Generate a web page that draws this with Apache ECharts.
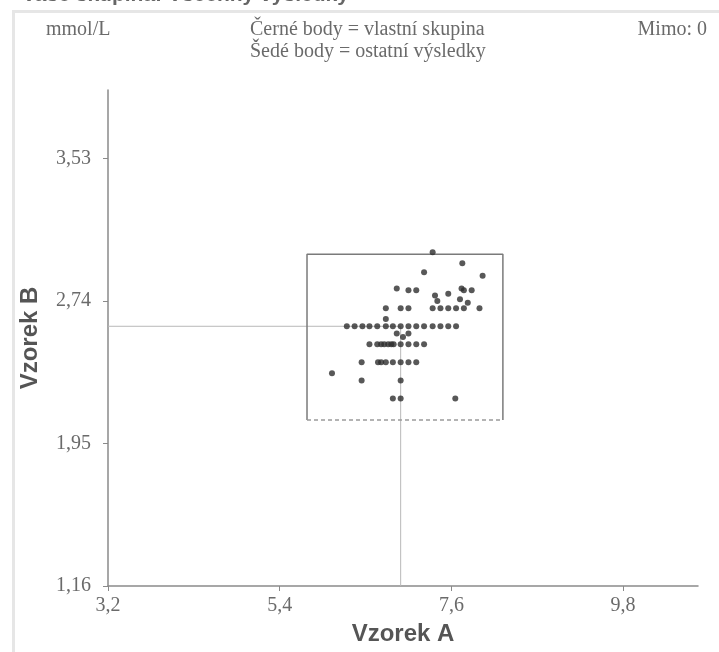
<!DOCTYPE html>
<html>
<head>
<meta charset="utf-8">
<title>Vzorek A / Vzorek B</title>
<script src="https://cdn.jsdelivr.net/npm/echarts@6/dist/echarts.min.js"></script>
<style>
  html, body { margin: 0; padding: 0; background: #ffffff; }
  #chart { width: 719px; height: 652px; }
</style>
</head>
<body>
<div id="chart"></div>
<script>
// Axis ticks (mmol/L)
const xTickValues = [3.2, 5.4, 7.6, 9.8];
const yTickValues = [1.16, 1.95, 2.74, 3.53];
const xRange = [3.2, 10.76];
const yRange = [1.16, 3.91];

// Own-group results: Vzorek A (x) and Vzorek B (y)
const ownX = [
  7.36, 7.74, 7.25, 8.00,
  6.90, 7.05, 7.15, 7.73, 7.76, 7.86, 7.56, 7.39, 7.71, 7.42, 7.81,
  6.76, 6.95, 7.05, 7.36, 7.46, 7.56, 7.66, 7.76, 7.96,
  6.76,
  6.26, 6.36, 6.46, 6.55, 6.65, 6.76, 6.85, 6.95, 7.05, 7.15, 7.25, 7.36, 7.46, 7.56, 7.66,
  6.90, 6.98, 7.05,
  6.55, 6.65, 6.70, 6.74, 6.79, 6.83, 6.86, 6.95, 7.05, 7.15, 7.25,
  6.45, 6.66, 6.70, 6.76, 6.85, 6.95, 7.05, 7.15,
  6.07,
  6.45, 6.95,
  6.85, 6.95, 7.65
];
const ownY = [
  3.01, 2.95, 2.90, 2.88,
  2.81, 2.80, 2.80, 2.81, 2.80, 2.80, 2.78, 2.77, 2.75, 2.74, 2.73,
  2.70, 2.70, 2.70, 2.70, 2.70, 2.70, 2.70, 2.70, 2.70,
  2.64,
  2.60, 2.60, 2.60, 2.60, 2.60, 2.60, 2.60, 2.60, 2.60, 2.60, 2.60, 2.60, 2.60, 2.60, 2.60,
  2.56, 2.54, 2.56,
  2.50, 2.50, 2.50, 2.50, 2.50, 2.50, 2.50, 2.50, 2.50, 2.50, 2.50,
  2.40, 2.40, 2.40, 2.40, 2.40, 2.40, 2.40, 2.40,
  2.34,
  2.30, 2.30,
  2.20, 2.20, 2.20
];

// Acceptable range box and target value
const boxX = [5.75, 8.26];
const boxY = [2.08, 3.00];
const target = [6.95, 2.60];

const fmt = v => String(v).replace('.', ',');
const serif = '"Liberation Serif", "Times New Roman", serif';
const sans = '"Liberation Sans", Arial, sans-serif';

const chart = echarts.init(document.getElementById('chart'), null, { renderer: 'canvas' });

chart.setOption({
  animation: false,
  backgroundColor: '#ffffff',
  grid: { left: 108, right: 21, top: 90, bottom: 66, containLabel: false },
  graphic: [
    { type: 'rect', shape: { x: 12, y: 10, width: 720, height: 3 }, style: { fill: '#e6e6e6' }, silent: true },
    { type: 'rect', shape: { x: 12, y: 10, width: 3, height: 660 }, style: { fill: '#e6e6e6' }, silent: true },
    { type: 'text', left: 22, top: -15, style: { text: 'Vaše skupina: Všechny výsledky', font: 'bold 21px ' + sans, fill: '#666666' } },
    { type: 'text', left: 46, top: 20, style: { text: 'mmol/L', font: '20px ' + serif, fill: '#6a6a6a' } },
    { type: 'text', left: 250, top: 20, style: { text: 'Černé body = vlastní skupina', font: '20px ' + serif, fill: '#6a6a6a' } },
    { type: 'text', left: 250, top: 42, style: { text: 'Šedé body = ostatní výsledky', font: '20px ' + serif, fill: '#6a6a6a' } },
    { type: 'text', right: 12, top: 20, style: { text: 'Mimo: 0', font: '20px ' + serif, fill: '#6a6a6a' } }
  ],
  xAxis: {
    type: 'value',
    min: xRange[0],
    max: xRange[1],
    name: 'Vzorek A',
    nameLocation: 'middle',
    nameGap: 36,
    nameTextStyle: { fontFamily: sans, fontWeight: 'bold', fontSize: 24, color: '#555555' },
    axisLine: { onZero: false, lineStyle: { color: '#8a8a8a', width: 1.5 } },
    axisTick: { show: true, length: 5, customValues: xTickValues, lineStyle: { color: '#8a8a8a' } },
    axisLabel: { customValues: xTickValues, formatter: fmt, margin: 10, fontFamily: serif, fontSize: 20, color: '#6a6a6a' },
    splitLine: { show: false }
  },
  yAxis: {
    type: 'value',
    min: yRange[0],
    max: yRange[1],
    name: 'Vzorek B',
    nameLocation: 'middle',
    nameGap: 66,
    nameRotate: 90,
    nameTextStyle: { fontFamily: sans, fontWeight: 'bold', fontSize: 24, color: '#555555' },
    axisLine: { show: true, onZero: false, lineStyle: { color: '#8a8a8a', width: 1.5 } },
    axisTick: { show: true, length: 5, customValues: yTickValues, lineStyle: { color: '#8a8a8a' } },
    axisLabel: { customValues: yTickValues, formatter: fmt, margin: 17, fontFamily: serif, fontSize: 20, color: '#6a6a6a' },
    splitLine: { show: false }
  },
  series: [
    {
      name: 'target',
      type: 'line',
      z: 1,
      silent: true,
      showSymbol: false,
      lineStyle: { color: '#b8b8b8', width: 1 },
      data: [[xRange[0], target[1]], [target[0], target[1]], [target[0], yRange[0]]]
    },
    {
      name: 'box',
      type: 'line',
      z: 2,
      silent: true,
      showSymbol: false,
      lineStyle: { color: '#7a7a7a', width: 1.5 },
      data: [[boxX[0], boxY[0]], [boxX[0], boxY[1]], [boxX[1], boxY[1]], [boxX[1], boxY[0]]]
    },
    {
      name: 'boxBottom',
      type: 'line',
      z: 2,
      silent: true,
      showSymbol: false,
      lineStyle: { color: '#9a9a9a', width: 1.5, type: [4, 3] },
      data: [[boxX[0], boxY[0]], [boxX[1], boxY[0]]]
    },
    {
      name: 'Černé body',
      type: 'scatter',
      z: 5,
      symbol: 'circle',
      symbolSize: 6,
      itemStyle: { color: '#2e2e2e' },
      data: ownX.map((x, i) => [x, ownY[i]])
    }
  ]
});
</script>
</body>
</html>
